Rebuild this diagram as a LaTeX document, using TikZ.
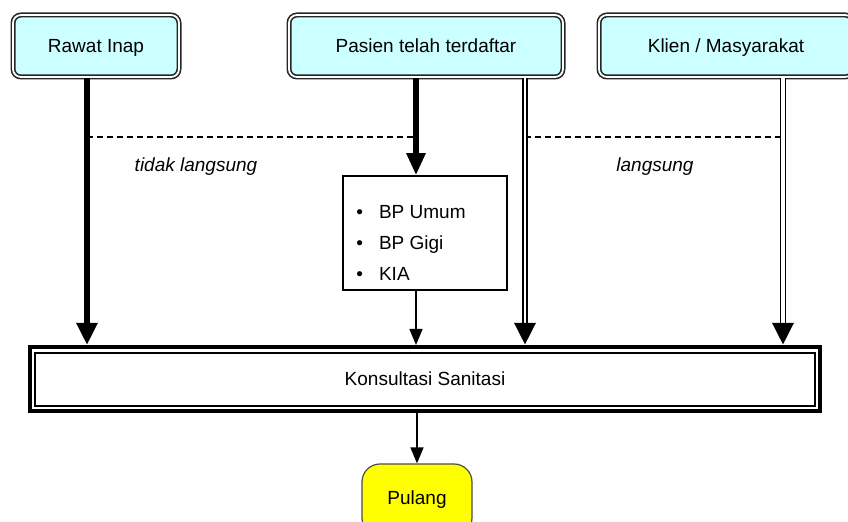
\documentclass[tikz,border=0pt]{standalone}
\usepackage{fontspec}
\setmainfont{Liberation Sans}
\usetikzlibrary{arrows.meta, positioning}
\definecolor{boxcyan}{RGB}{204, 255, 255}
\definecolor{pulangyellow}{RGB}{255, 255, 0}

\begin{document}
\begin{tikzpicture}[
    x=0.5pt, y=-0.5pt,
    every node/.style={font=\fontsize{9.5}{12}\selectfont},
    unit/.style={draw=black!85, line width=0.8pt, double=white, double distance=0.9pt, fill=boxcyan, rounded corners=4pt, minimum height=31pt, inner sep=2pt, text depth=0pt, text height=7pt},
    konsbox/.style={draw, line width=2pt, minimum width=395pt, minimum height=32pt},
    bpbox/.style={draw, line width=0.75pt, minimum width=82pt, minimum height=57pt},
    endbox/.style={draw=black!70, line width=0.6pt, fill=pulangyellow, rounded corners=9pt, minimum width=55pt, minimum height=36pt},
    bigarrow/.style={-{Triangle[width=10pt, length=11pt]}, line width=3pt},
    midarrow/.style={-{Triangle[width=9pt, length=11pt]}, line width=3pt},
    thinarrow/.style={-{Triangle[width=6.5pt, length=8pt]}, line width=0.75pt},
    dblline/.style={double=white, line width=1pt, double distance=1pt, shorten >=6pt},
    dblthin/.style={double=white, line width=0.9pt, double distance=1.6pt, shorten >=6pt},
    dashline/.style={dashed, dash pattern=on 3pt off 2pt, line width=0.75pt},
    note/.style={font=\itshape\fontsize{9.5}{12}\selectfont}
]
    \useasboundingbox (0,0) rectangle (848,522);

    % Sources
    \node[unit, minimum width=83pt] (rawat) at (96,46) {Rawat Inap};
    \node[unit, minimum width=137pt] (pasien) at (426,46) {Pasien telah terdaftar};
    \node[unit, minimum width=127pt] (klien) at (726,46) {Klien / Masyarakat};

    % Columns and dashed row
    \coordinate (c1) at (87,137);
    \coordinate (c2) at (416,137);
    \coordinate (c3) at (525,137);
    \coordinate (c4) at (783,137);

    % Poli
    \node[bpbox] (bp) at (425,233) {};
    \node[anchor=west, align=left, inner sep=0pt, font=\fontsize{9.5}{15.5}\selectfont] (bplist) at (356,243)
        {\textbullet\hspace{8pt}BP Umum\\ \textbullet\hspace{8pt}BP Gigi\\ \textbullet\hspace{8pt}KIA};

    % Konsultasi
    \node[konsbox] (kons) at (425,379) {Konsultasi Sanitasi};
    \draw[line width=0.75pt] ([xshift=3.5pt, yshift=-4pt]kons.north west) rectangle ([xshift=-3.5pt, yshift=3.5pt]kons.south east);

    \node[endbox] (pulang) at (417,500) {Pulang};

    % Labels
    \node[note] (tidak) at (196,167) {tidak langsung};
    \node[note] (langsung) at (655,167) {langsung};

    % Arrows
    \draw[dashline] (c1) -- (c2);
    \draw[dashline] (c3) -- (c4);
    \draw[bigarrow] (rawat.south -| c1) -- (kons.north -| c1);
    \draw[midarrow] (pasien.south -| c2) -- (bp.north -| c2);
    \draw[thinarrow] (bp.south -| c2) -- (kons.north -| c2);
    \draw[dblline] (pasien.south -| c3) -- (kons.north -| c3);
    \draw[bigarrow] ([yshift=11pt]kons.north -| c3) -- (kons.north -| c3);
    \draw[dblthin] (klien.south -| c4) -- (kons.north -| c4);
    \draw[bigarrow] ([yshift=11pt]kons.north -| c4) -- (kons.north -| c4);
    \draw[thinarrow] (kons.south -| pulang.north) -- (pulang.north);

\end{tikzpicture}
\end{document}
